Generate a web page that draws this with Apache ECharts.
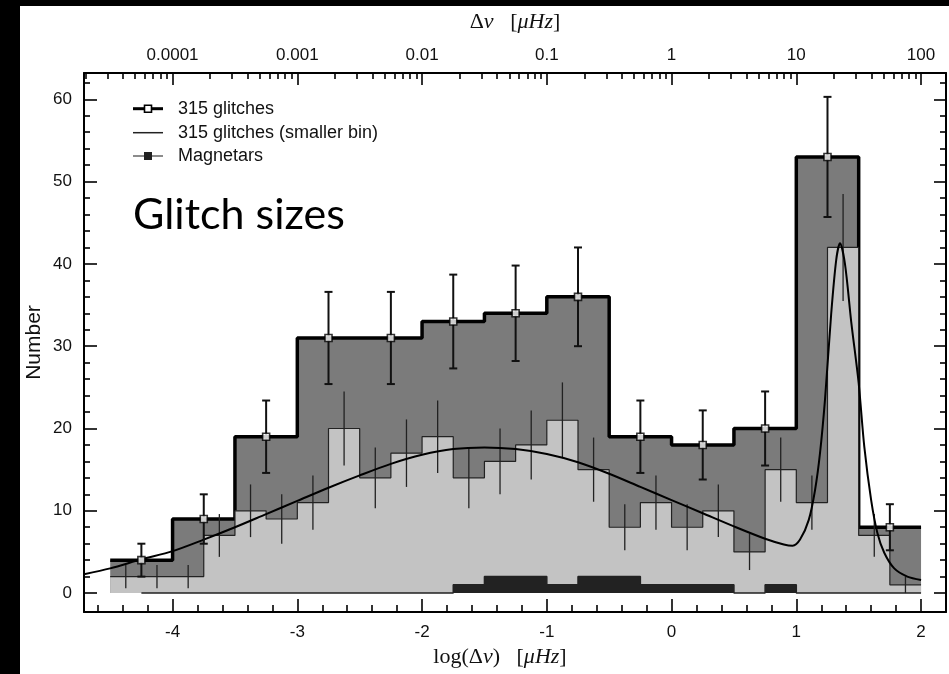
<!DOCTYPE html>
<html>
<head>
<meta charset="utf-8">
<script src="https://cdn.jsdelivr.net/npm/echarts@6/dist/echarts.min.js"></script>
<style>
  html, body { margin: 0; padding: 0; background: #000; }
  #chart { position: absolute; left: 20px; top: 6px; width: 929px; height: 668px; background: #fff; }
</style>
</head>
<body>
<div id="chart"></div>
<script>
// 315 glitches, bin width 0.5 in log(dnu)
const wideEdges = [-4.5, -4, -3.5, -3, -2.5, -2, -1.5, -1, -0.5, 0, 0.5, 1, 1.5, 2];
const glitchCounts = [4, 9, 19, 31, 31, 33, 34, 36, 19, 18, 20, 53, 8];
const glitchErr = [2, 3, 4.4, 5.6, 5.6, 5.7, 5.8, 6, 4.4, 4.2, 4.5, 7.3, 2.8];

// same sample, bin width 0.25
const fineEdges = [-4.5, -4.25, -4, -3.75, -3.5, -3.25, -3, -2.75, -2.5, -2.25, -2, -1.75, -1.5,
  -1.25, -1, -0.75, -0.5, -0.25, 0, 0.25, 0.5, 0.75, 1, 1.25, 1.5, 1.75, 2];
const fineCounts = [2, 2, 2, 7, 10, 9, 11, 20, 14, 17, 19, 14, 16, 18, 21, 15, 8, 11, 8, 10, 5, 15, 11, 42, 7, 1];
const fineErr = [1.4, 1.4, 1.4, 2.6, 3.2, 3, 3.3, 4.5, 3.7, 4.1, 4.4, 3.7, 4, 4.2, 4.6, 3.9,
  2.8, 3.3, 2.8, 3.2, 2.2, 3.9, 3.3, 6.5, 2.6, 1];

// magnetars
const magEdges = [-4.25, -4, -3.75, -3.5, -3.25, -3, -2.75, -2.5, -2.25, -2, -1.75, -1.5, -1.25,
  -1, -0.75, -0.5, -0.25, 0, 0.25, 0.5, 0.75, 1, 1.25, 1.5, 1.75, 2];
const magCounts = [0, 0, 0, 0, 0, 0, 0, 0, 0, 0, 1, 2, 2, 1, 2, 2, 1, 1, 1, 0, 1, 0, 0, 0, 0];

// fitted curve
const fitX = [-4.71, -4.5, -4.25, -4, -3.75, -3.5, -3.25, -3, -2.75, -2.5, -2.25, -2, -1.75, -1.5,
  -1.25, -1, -0.75, -0.5, -0.25, 0, 0.25, 0.5, 0.75, 0.9, 0.97, 1.03, 1.1, 1.15, 1.19, 1.23,
  1.28, 1.32, 1.35, 1.39, 1.44, 1.5, 1.545, 1.6, 1.65, 1.705, 1.785, 1.89, 2];
const fitY = [2.3, 3.0, 4.1, 5.1, 6.5, 8.0, 9.6, 11.2, 12.8, 14.3, 15.7, 16.8, 17.5, 17.7,
  17.5, 16.9, 15.9, 14.5, 12.9, 11.3, 9.7, 8.1, 6.6, 5.9, 5.75, 6.5, 8.9, 12.5, 17, 23.5,
  34, 40.5, 42.5, 40, 33, 25.5, 17.8, 11.3, 7.3, 4.9, 3.0, 2.0, 1.6];

// axes
const bottomTicks = [-4, -3, -2, -1, 0, 1, 2];
const topTickLabels = ['0.0001', '0.001', '0.01', '0.1', '1', '10', '100'];
const yTicks = [0, 10, 20, 30, 40, 50, 60];

const X_MIN = -4.71, X_MAX = 2.2, Y_MIN = -2.3, Y_MAX = 63.2;

function stepData(edges, counts) {
  const d = counts.map((c, i) => [edges[i], c]);
  d.push([edges[edges.length - 1], counts[counts.length - 1]]);
  return d;
}
function centers(edges) {
  return edges.slice(0, -1).map((e, i) => (e + edges[i + 1]) / 2);
}

const wideCenters = centers(wideEdges);
const fineCenters = centers(fineEdges);

const topPos = topTickLabels.map(s => Math.log10(parseFloat(s)));
const topLabelMap = {};
topPos.forEach((p, i) => { topLabelMap[p.toFixed(3)] = topTickLabels[i]; });
const topMinor = [];
for (let d = -5; d <= 2; d++) {
  for (let k = 2; k <= 9; k++) {
    const v = d + Math.log10(k);
    if (v > X_MIN && v < X_MAX) topMinor.push(v);
  }
}
const bottomMinor = [];
for (let v = -4.6; v < X_MAX; v += 0.2) {
  const r = Math.round(v * 10) / 10;
  if (Math.abs(r - Math.round(r)) > 0.01) bottomMinor.push(r);
}
const yMinor = [];
for (let v = 2; v < Y_MAX; v += 2) { if (v % 10 !== 0) yMinor.push(v); }

const labelFont = { fontFamily: 'Liberation Sans', fontSize: 17, color: '#111' };

function xAxisCfg(pos, ticks, len, labels, line) {
  return {
    type: 'value', position: pos, min: X_MIN, max: X_MAX,
    axisLine: { show: line, onZero: false, lineStyle: { color: '#000', width: 2 } },
    axisTick: { show: true, inside: true, length: len, customValues: ticks, lineStyle: { color: '#000', width: 1.6 } },
    axisLabel: labels || { show: false },
    splitLine: { show: false }
  };
}
function yAxisCfg(pos, ticks, len, labels, line) {
  return {
    type: 'value', position: pos, min: Y_MIN, max: Y_MAX,
    axisLine: { show: line, onZero: false, lineStyle: { color: '#000', width: 2 } },
    axisTick: { show: true, inside: true, length: len, customValues: ticks, lineStyle: { color: '#000', width: 1.6 } },
    axisLabel: labels || { show: false },
    splitLine: { show: false }
  };
}

const xBottom = xAxisCfg('bottom', bottomTicks, 13, Object.assign({
  show: true, customValues: bottomTicks, margin: 12
}, labelFont), true);
xBottom.name = 'log(Δ{i|ν})   [{i|μHz}]';
xBottom.nameLocation = 'middle';
xBottom.nameGap = 32;
xBottom.nameTextStyle = {
  fontFamily: 'Liberation Serif', fontSize: 22, color: '#111', padding: [0, 30, 0, 0],
  rich: { i: { fontFamily: 'Liberation Serif', fontStyle: 'italic', fontSize: 22, color: '#111' } }
};

const xTop = xAxisCfg('top', topPos, 12, Object.assign({
  show: true, customValues: topPos, margin: 9,
  formatter: v => topLabelMap[v.toFixed(3)] || ''
}, labelFont), true);
xTop.name = 'Δ{i|ν}   [{i|μHz}]';
xTop.nameLocation = 'middle';
xTop.nameGap = 40;
xTop.nameTextStyle = {
  fontFamily: 'Liberation Serif', fontSize: 22, color: '#111',
  rich: { i: { fontFamily: 'Liberation Serif', fontStyle: 'italic', fontSize: 22, color: '#111' } }
};

const yLeft = yAxisCfg('left', yTicks, 13, Object.assign({
  show: true, customValues: yTicks, margin: 12
}, labelFont), true);
yLeft.name = 'Number';
yLeft.nameLocation = 'middle';
yLeft.nameGap = 39;
yLeft.nameMoveOverlap = false;
yLeft.nameTextStyle = { fontFamily: 'Liberation Sans', fontSize: 21, color: '#111' };

const chart = echarts.init(document.getElementById('chart'), null, { renderer: 'canvas' });

chart.setOption({
  animation: false,
  backgroundColor: '#fff',
  grid: { left: 64, right: 3, top: 67, bottom: 62, outerBoundsMode: 'none', containLabel: false },
  xAxis: [
    xBottom,
    xAxisCfg('bottom', bottomMinor, 7, null, false),
    xTop,
    xAxisCfg('top', topMinor, 6, null, false)
  ],
  yAxis: [
    yLeft,
    yAxisCfg('left', yMinor, 6, null, false),
    yAxisCfg('right', yTicks, 12, null, true),
    yAxisCfg('right', yMinor, 6, null, false)
  ],
  series: [
    {
      name: '315 glitches', type: 'line', step: 'end', z: 2,
      data: stepData(wideEdges, glitchCounts),
      showSymbol: false,
      lineStyle: { color: '#000', width: 3.5 },
      areaStyle: { color: '#7b7b7b', opacity: 1 }
    },
    {
      name: '315 glitches (smaller bin)', type: 'line', step: 'end', z: 3,
      data: stepData(fineEdges, fineCounts),
      showSymbol: false,
      lineStyle: { color: '#222', width: 1.2 },
      areaStyle: { color: '#c3c3c3', opacity: 1 }
    },
    {
      name: 'fine errors', type: 'custom', z: 4,
      data: fineCenters.map((x, i) => [x, fineCounts[i] - fineErr[i], fineCounts[i] + fineErr[i]]),
      renderItem: (params, api) => {
        const a = api.coord([api.value(0), api.value(1)]);
        const b = api.coord([api.value(0), api.value(2)]);
        return { type: 'line', shape: { x1: a[0], y1: a[1], x2: b[0], y2: b[1] },
          style: { stroke: '#222', lineWidth: 1.3 } };
      }
    },
    {
      name: 'Magnetars', type: 'line', step: 'end', z: 5,
      data: stepData(magEdges, magCounts),
      showSymbol: false,
      lineStyle: { color: '#222', width: 1.5 },
      areaStyle: { color: '#222', opacity: 1 }
    },
    {
      name: 'fit', type: 'line', z: 6, smooth: 0.3,
      data: fitX.map((x, i) => [x, fitY[i]]),
      showSymbol: false,
      lineStyle: { color: '#000', width: 2 }
    },
    {
      name: 'glitch errors', type: 'custom', z: 7,
      data: wideCenters.map((x, i) => [x, glitchCounts[i] - glitchErr[i], glitchCounts[i] + glitchErr[i]]),
      renderItem: (params, api) => {
        const a = api.coord([api.value(0), api.value(1)]);
        const b = api.coord([api.value(0), api.value(2)]);
        const w = 4;
        return { type: 'group', children: [
          { type: 'line', shape: { x1: a[0], y1: a[1], x2: b[0], y2: b[1] }, style: { stroke: '#111', lineWidth: 2 } },
          { type: 'line', shape: { x1: a[0] - w, y1: a[1], x2: a[0] + w, y2: a[1] }, style: { stroke: '#111', lineWidth: 2 } },
          { type: 'line', shape: { x1: b[0] - w, y1: b[1], x2: b[0] + w, y2: b[1] }, style: { stroke: '#111', lineWidth: 2 } }
        ] };
      }
    },
    {
      name: 'glitch points', type: 'scatter', z: 8,
      data: wideCenters.map((x, i) => [x, glitchCounts[i]]),
      symbol: 'rect', symbolSize: 7,
      itemStyle: { color: '#fff', borderColor: '#000', borderWidth: 1.6 }
    }
  ],
  graphic: [
    { type: 'line', shape: { x1: 113, y1: 102.7, x2: 143, y2: 102.7 }, style: { stroke: '#000', lineWidth: 3 } },
    { type: 'rect', shape: { x: 124.5, y: 99.2, width: 7, height: 7 }, style: { fill: '#fff', stroke: '#000', lineWidth: 1.6 } },
    { type: 'text', x: 158, y: 102.7, style: { text: '315 glitches', font: '18px "Liberation Sans"', fill: '#111', verticalAlign: 'middle' } },
    { type: 'line', shape: { x1: 113, y1: 126.7, x2: 143, y2: 126.7 }, style: { stroke: '#222', lineWidth: 1.5 } },
    { type: 'text', x: 158, y: 126.7, style: { text: '315 glitches (smaller bin)', font: '18px "Liberation Sans"', fill: '#111', verticalAlign: 'middle' } },
    { type: 'line', shape: { x1: 113, y1: 150, x2: 143, y2: 150 }, style: { stroke: '#666', lineWidth: 1.5 } },
    { type: 'rect', shape: { x: 124, y: 146, width: 8, height: 8 }, style: { fill: '#222' } },
    { type: 'text', x: 158, y: 150, style: { text: 'Magnetars', font: '18px "Liberation Sans"', fill: '#111', verticalAlign: 'middle' } },
    { type: 'text', x: 113, y: 209, style: { text: 'Glitch sizes', font: '43px Lato', fill: '#000', verticalAlign: 'middle' } }
  ]
});
</script>
</body>
</html>
